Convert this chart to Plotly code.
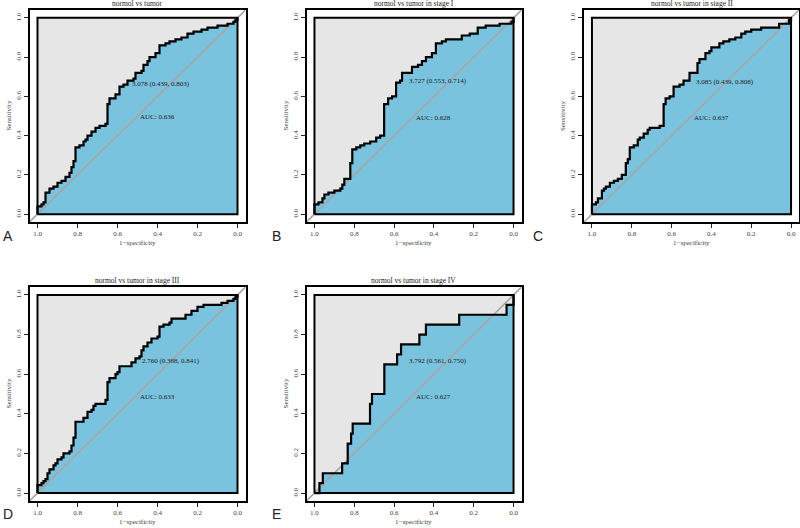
import plotly.graph_objects as go

# ---------------- data (specificity, sensitivity) ----------------
titles = ["normol vs tumor", "normol vs tumor in stage I", "normol vs tumor in stage II",
          "normol vs tumor in stage III", "normol vs tumor in stage IV"]
letters = ["A", "B", "C", "D", "E"]
thr_labels = ["3.078 (0.439, 0.803)", "3.727 (0.553, 0.714)", "3.085 (0.439, 0.808)",
              "2.760 (0.388, 0.841)", "3.792 (0.561, 0.750)"]
auc_labels = ["AUC: 0.636", "AUC: 0.628", "AUC: 0.637", "AUC: 0.633", "AUC: 0.627"]

A_spec = [1.00,1.00,0.98,0.97,0.96,0.96,0.94,0.94,0.92,0.90,0.88,0.86,0.84,0.83,0.82,0.81,0.81,0.79,0.77,0.76,
          0.75,0.73,0.71,0.69,0.66,0.65,0.64,0.61,0.60,0.59,0.57,0.55,0.52,0.51,0.48,0.47,0.45,0.44,0.41,0.39,
          0.39,0.36,0.34,0.31,0.28,0.25,0.22,0.18,0.15,0.10,0.05,0.02,0.01,0.00]
A_sens = [0.00,0.04,0.05,0.06,0.08,0.11,0.11,0.13,0.14,0.16,0.17,0.19,0.21,0.24,0.27,0.28,0.34,0.35,0.37,0.38,
          0.40,0.42,0.44,0.45,0.46,0.56,0.59,0.61,0.61,0.65,0.66,0.68,0.69,0.72,0.73,0.76,0.78,0.80,0.82,0.84,
          0.86,0.87,0.88,0.89,0.90,0.92,0.93,0.94,0.95,0.96,0.97,0.98,0.99,1.00]

B_spec = [1.00,1.00,0.98,0.96,0.95,0.93,0.90,0.87,0.86,0.85,0.83,0.82,0.82,0.81,0.79,0.77,0.75,0.72,0.69,0.67,
          0.65,0.65,0.63,0.61,0.59,0.57,0.56,0.52,0.51,0.48,0.46,0.44,0.41,0.39,0.39,0.36,0.34,0.28,0.26,0.22,
          0.19,0.18,0.14,0.07,0.01,0.00]
B_sens = [0.00,0.05,0.06,0.08,0.10,0.11,0.12,0.13,0.15,0.18,0.18,0.24,0.26,0.33,0.34,0.35,0.36,0.37,0.39,0.40,
          0.42,0.56,0.59,0.60,0.67,0.68,0.72,0.72,0.75,0.76,0.78,0.80,0.82,0.82,0.87,0.88,0.89,0.89,0.91,0.92,
          0.92,0.95,0.96,0.97,0.98,1.00]

C_spec = [1.00,1.00,0.98,0.97,0.95,0.95,0.94,0.93,0.91,0.89,0.87,0.85,0.83,0.83,0.82,0.81,0.79,0.77,0.76,0.74,
          0.72,0.71,0.66,0.64,0.64,0.63,0.61,0.59,0.59,0.56,0.54,0.51,0.51,0.48,0.47,0.46,0.43,0.41,0.40,0.36,
          0.34,0.31,0.28,0.25,0.23,0.20,0.15,0.10,0.06,0.02,0.01,0.00]
C_sens = [0.00,0.05,0.06,0.08,0.08,0.12,0.13,0.14,0.16,0.17,0.18,0.20,0.22,0.26,0.28,0.34,0.35,0.38,0.39,0.41,
          0.43,0.44,0.45,0.45,0.56,0.59,0.60,0.61,0.65,0.66,0.68,0.69,0.72,0.72,0.77,0.79,0.82,0.83,0.85,0.87,
          0.88,0.89,0.90,0.92,0.93,0.94,0.95,0.95,0.97,0.97,0.99,1.00]

D_spec = [1.00,1.00,0.98,0.97,0.96,0.95,0.94,0.92,0.91,0.90,0.88,0.87,0.84,0.83,0.82,0.81,0.81,0.78,0.77,0.75,
          0.73,0.72,0.71,0.67,0.66,0.65,0.65,0.64,0.61,0.60,0.59,0.55,0.53,0.51,0.49,0.48,0.47,0.45,0.43,0.40,
          0.39,0.37,0.34,0.33,0.28,0.26,0.23,0.20,0.17,0.12,0.08,0.05,0.02,0.01,0.00]
D_sens = [0.00,0.04,0.05,0.06,0.07,0.10,0.12,0.14,0.15,0.17,0.18,0.20,0.21,0.24,0.28,0.29,0.36,0.36,0.38,0.41,
          0.42,0.44,0.45,0.45,0.47,0.48,0.56,0.58,0.60,0.61,0.64,0.64,0.66,0.68,0.69,0.72,0.74,0.76,0.78,0.79,
          0.84,0.85,0.86,0.88,0.88,0.90,0.92,0.94,0.95,0.95,0.96,0.97,0.98,0.99,1.00]

E_spec = [1.00,0.975,0.958,0.861,0.833,0.816,0.808,0.721,0.711,0.649,0.585,0.565,0.473,0.440,0.273,0.035,0.00,0.00]
E_sens = [0.00,0.05,0.10,0.15,0.25,0.30,0.35,0.45,0.50,0.65,0.70,0.75,0.80,0.85,0.90,0.95,0.95,1.00]

curves = [(A_spec, A_sens), (B_spec, B_sens), (C_spec, C_sens), (D_spec, D_sens), (E_spec, E_sens)]
thr_pos = [(0.537, 0.662), (0.537, 0.677), (0.486, 0.672), (0.487, 0.669), (0.537, 0.669)]
auc_pos = [(0.497, 0.494), (0.498, 0.49), (0.496, 0.49), (0.496, 0.487), (0.498, 0.487)]
tick_vals = [0.0, 0.2, 0.4, 0.6, 0.8, 1.0]
tick_text = ["0.0", "0.2", "0.4", "0.6", "0.8", "1.0"]

# ---------------- layout geometry (pixels) ----------------
W, H = 800, 528
boxes = [  # x0, x1, ytop, ybottom of the plot frame
    (29.5, 245.5, 10, 222),
    (306.5, 521.5, 10, 222),
    (584, 799, 10, 222),
    (29.5, 245.5, 287, 501),
    (306.5, 521.5, 287, 501),
]
letter_pos = [(1, 236), (270, 236), (531, 236), (1, 514), (270, 514)]

SERIF = "Liberation Serif"
GRAYFILL = "#E6E6E6"
BLUE = "#79C3DE"
DIAG = "#A6A6A6"

fig = go.Figure()
layout = dict(width=W, height=H, margin=dict(l=0, r=0, t=0, b=0),
              paper_bgcolor="white", plot_bgcolor="white", showlegend=False)
annotations = []

for i, (spec, sens) in enumerate(curves):
    n = "" if i == 0 else str(i + 1)
    xa, ya = "x" + n, "y" + n
    fig.add_trace(go.Scatter(x=[1, 0, 0, 1, 1], y=[0, 0, 1, 1, 0], mode="lines", fill="toself",
                             fillcolor=GRAYFILL, line=dict(width=0), xaxis=xa, yaxis=ya, hoverinfo="skip"))
    fig.add_trace(go.Scatter(x=list(spec) + [0, 1], y=list(sens) + [0, 0], mode="lines", fill="toself",
                             fillcolor=BLUE, line=dict(width=0, shape="hv"), xaxis=xa, yaxis=ya, hoverinfo="skip"))
    fig.add_trace(go.Scatter(x=[1.04, -0.04], y=[-0.04, 1.04], mode="lines",
                             line=dict(color=DIAG, width=1.6), xaxis=xa, yaxis=ya, hoverinfo="skip"))
    fig.add_trace(go.Scatter(x=[1, 0, 0, 1, 1], y=[0, 0, 1, 1, 0], mode="lines",
                             line=dict(color="black", width=2), xaxis=xa, yaxis=ya, hoverinfo="skip"))
    fig.add_trace(go.Scatter(x=spec, y=sens, mode="lines", line=dict(color="black", width=2.2, shape="hv"),
                             xaxis=xa, yaxis=ya))

    x0, x1, yt, yb = boxes[i]
    common = dict(showgrid=False, zeroline=False, showline=True, mirror=True, linecolor="black",
                  linewidth=2, ticks="outside", ticklen=4, tickwidth=1, tickcolor="#222",
                  tickvals=tick_vals, ticktext=tick_text,
                  tickfont=dict(family=SERIF, size=7, color="#444"), fixedrange=True)
    layout["xaxis" + n] = dict(domain=[x0 / W, x1 / W], range=[1.04, -0.04], anchor=ya, **common)
    layout["yaxis" + n] = dict(domain=[1 - yb / H, 1 - yt / H], range=[-0.04, 1.04], anchor=xa,
                               tickangle=-90, **common)

    cx = (x0 + x1) / 2
    annotations.append(dict(text=titles[i], x=cx / W, y=1 - (yt - 6.5) / H, xref="paper", yref="paper",
                            showarrow=False, font=dict(family=SERIF, size=7.5, color="#222"),
                            xanchor="center", yanchor="middle"))
    annotations.append(dict(text="1\u2212specificity", x=cx / W, y=1 - (yb + 21) / H, xref="paper",
                            yref="paper", showarrow=False, font=dict(family=SERIF, size=7, color="#444"),
                            xanchor="center", yanchor="middle"))
    annotations.append(dict(text="Sensitivity", x=(x0 - 21) / W, y=1 - ((yt + yb) / 2) / H, xref="paper",
                            yref="paper", showarrow=False, textangle=-90,
                            font=dict(family=SERIF, size=7, color="#444"), xanchor="center", yanchor="middle"))
    annotations.append(dict(text=thr_labels[i], x=thr_pos[i][0], y=thr_pos[i][1], xref=xa, yref=ya,
                            showarrow=False, font=dict(family=SERIF, size=7, color="#222"),
                            xanchor="left", yanchor="middle"))
    annotations.append(dict(text=auc_labels[i], x=auc_pos[i][0], y=auc_pos[i][1], xref=xa, yref=ya,
                            showarrow=False, font=dict(family=SERIF, size=7, color="#222"),
                            xanchor="left", yanchor="middle"))
    lx, ly = letter_pos[i]
    annotations.append(dict(text=letters[i], x=lx / W, y=1 - ly / H, xref="paper", yref="paper",
                            showarrow=False, font=dict(family="Liberation Sans", size=14, color="#222"),
                            xanchor="left", yanchor="middle"))

layout["annotations"] = annotations
fig.update_layout(**layout)
fig.write_html("out.html", config={"displayModeBar": False},
               post_script="document.body.style.margin='0px';document.body.style.overflow='hidden';")
